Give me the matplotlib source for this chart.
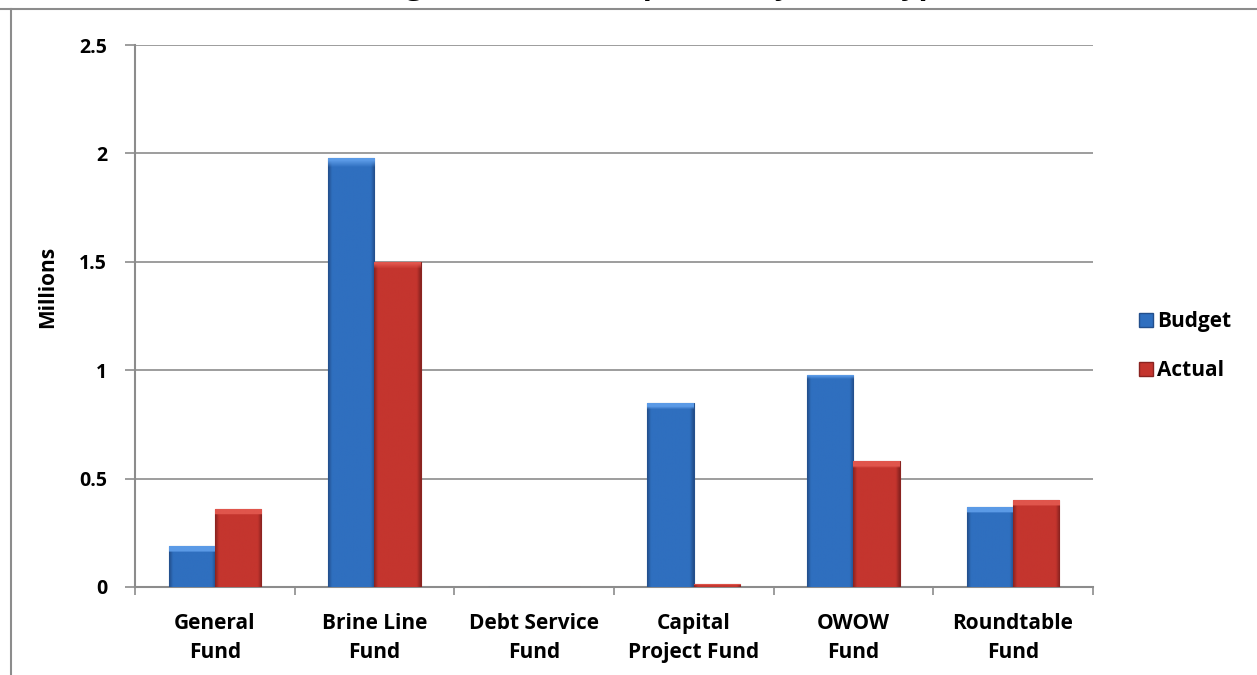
import numpy as np
import matplotlib
matplotlib.use('Agg')
import matplotlib.pyplot as plt
from matplotlib.lines import Line2D
from matplotlib.colors import to_rgb

plt.rcParams['font.family'] = ['Open Sans', 'DejaVu Sans']
plt.rcParams['font.weight'] = 'bold'

# 数据（单位：百万）
funds = ["General\nFund", "Brine Line\nFund", "Debt Service\nFund",
         "Capital\nProject Fund", "OWOW\nFund", "Roundtable\nFund"]
budget = [0.19, 1.98, 0.0, 0.85, 0.98, 0.37]
actual = [0.36, 1.50, 0.0, 0.014, 0.58, 0.40]
series_names = ["Budget", "Actual"]

fc = ['#2f6fbf', '#c4352e']
ec = ['#234f8c', '#8a2320']
light = ['#5b9ae6', '#e0554c']
grid_c = '#8c8c8c'


def shade_bars(ax, bars, base, edge, top):
    # 柱子做一点立体感：两侧偏暗，顶部一条亮边
    base, edge, top = to_rgb(base), to_rgb(edge), to_rgb(top)
    t = np.linspace(0, 1, 64)
    prof = np.clip(np.minimum(t, 1 - t) * 12, 0, 1)
    row = np.array([[edge[k] + (base[k] - edge[k]) * p for k in range(3)] for p in prof])
    for b in bars:
        h = b.get_height()
        if h <= 0:
            continue
        x0, w = b.get_x(), b.get_width()
        img = np.tile(row[None, :, :], (64, 1, 1))
        cap = min(0.03, h * 0.5)
        n_cap = max(1, int(64 * cap / h))
        img[-n_cap:] = np.array(top)
        im = ax.imshow(img, extent=(x0, x0 + w, 0, h), origin='lower',
                       aspect='auto', zorder=3.5, interpolation='bilinear')
        im.set_clip_path(b)


def drawBars():
    fig = plt.figure(figsize=(12.57, 6.75), dpi=100)
    ax = fig.add_axes([0.1074, 0.1304, 0.762, 0.8029])

    x = np.arange(len(funds))
    width = 0.29
    b1 = ax.bar(x - width / 2, budget, width=width, color=fc[0], edgecolor=ec[0],
                linewidth=0.8, zorder=3)
    b2 = ax.bar(x + width / 2, actual, width=width, color=fc[1], edgecolor=ec[1],
                linewidth=0.8, zorder=3)
    shade_bars(ax, b1, fc[0], ec[0], light[0])
    shade_bars(ax, b2, fc[1], ec[1], light[1])

    ax.set_xlim(-0.5, len(funds) - 0.5)
    ax.set_ylim(0, 2.5)
    ax.set_yticks([0, 0.5, 1, 1.5, 2, 2.5])
    ax.set_yticklabels(['0', '0.5', '1', '1.5', '2', '2.5'], fontsize=14, fontweight='bold')
    ax.yaxis.grid(True, color=grid_c, linewidth=1.2, zorder=0)
    ax.set_axisbelow(True)

    # x轴：刻度在类别之间，标签在类别中心
    ax.set_xticks(np.arange(len(funds) + 1) - 0.5)
    ax.set_xticklabels([])
    ax.set_xticks(x, minor=True)
    ax.set_xticklabels(funds, minor=True, fontsize=15, fontweight='bold',
                       linespacing=1.5)
    ax.tick_params(axis='x', which='minor', length=0, pad=19)
    ax.tick_params(axis='x', which='major', length=6, color=grid_c, width=1.2)
    ax.tick_params(axis='y', length=7, color=grid_c, width=1.2, pad=13)

    for s in ['top', 'right']:
        ax.spines[s].set_visible(False)
    for s in ['left', 'bottom']:
        ax.spines[s].set_color(grid_c)
        ax.spines[s].set_linewidth(1.5)

    ax.set_ylabel("Millions", fontsize=15, fontweight='bold')
    ax.yaxis.set_label_coords(-0.0804, 0.553)

    handles = [Line2D([], [], marker='s', linestyle='', markersize=10,
                      markerfacecolor=fc[i], markeredgecolor=ec[i])
               for i in range(2)]
    fig.legend(handles, series_names, loc='center left',
               bbox_to_anchor=(0.889, 0.487), frameon=False,
               prop={'size': 15, 'weight': 'bold'}, handletextpad=0.1,
               labelspacing=1.35, handlelength=0.9)

    # 外框与标题
    fig.add_artist(Line2D([0, 1], [0.986, 0.986], color=grid_c, linewidth=1.5))
    fig.add_artist(Line2D([0.0085, 0.0085], [0, 0.986], color=grid_c, linewidth=1.5))
    fig.text(0.518, 1 + 6 / 675, "Budget vs Actual Expenses by Fund Type",
             ha='center', va='baseline', fontsize=22, fontweight='bold')

    fig.savefig('out.png', dpi=100)


if __name__ == '__main__':
    drawBars()
